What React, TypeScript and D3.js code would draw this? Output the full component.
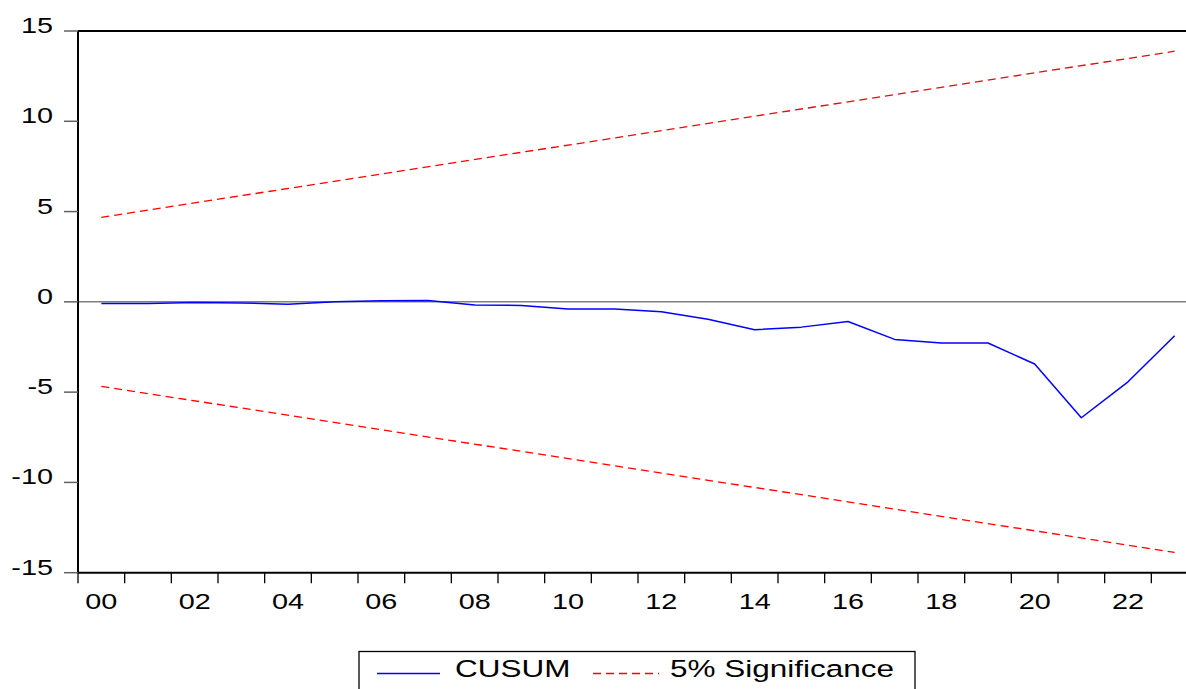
import React from "react";
import * as d3 from "d3";

const years = [2000, 2001, 2002, 2003, 2004, 2005, 2006, 2007, 2008, 2009, 2010, 2011, 2012, 2013, 2014, 2015, 2016, 2017, 2018, 2019, 2020, 2021, 2022, 2023];
const cusum = [-0.09, -0.09, -0.04, -0.06, -0.13, 0.0, 0.06, 0.07, -0.18, -0.2, -0.39, -0.4, -0.55, -0.96, -1.54, -1.4, -1.09, -2.08, -2.28, -2.28, -3.44, -6.42, -4.43, -1.88];
const sigYears = [2000, 2023];
const upperBound = [4.68, 13.88];
const lowerBound = [-4.68, -13.88];
const yTicks = [-15, -10, -5, 0, 5, 10, 15];
const xLabelYears = [2000, 2002, 2004, 2006, 2008, 2010, 2012, 2014, 2016, 2018, 2020, 2022];

const W = 1186;
const H = 689;
const FONT = "'Liberation Sans', Arial, sans-serif";
const SX = 1.34;

function T({ x, y, anchor, size, children }: { x: number; y: number; anchor: "start" | "middle" | "end"; size: number; children: React.ReactNode }) {
  return (
    <text
      transform={`translate(${x},${y}) scale(${SX},1)`}
      textAnchor={anchor}
      fontFamily={FONT}
      fontSize={size}
      fill="#000"
    >
      {children}
    </text>
  );
}

export default function App() {
  const x = d3.scaleLinear().domain([2000, 2024]).range([78, 1198]);
  const y = d3.scaleLinear().domain([-15, 15]).range([572.7, 31]);
  const cx = (yr: number) => x(yr + 0.5);

  const line = d3
    .line<[number, number]>()
    .x((d) => cx(d[0]))
    .y((d) => y(d[1]));

  const cusumPath = line(years.map((yr, i) => [yr, cusum[i]] as [number, number])) || "";
  const upperPath = line(sigYears.map((yr, i) => [yr, upperBound[i]] as [number, number])) || "";
  const lowerPath = line(sigYears.map((yr, i) => [yr, lowerBound[i]] as [number, number])) || "";

  const tickYears = d3.range(2000, 2025);
  const left = x(2000);
  const right = x(2024);
  const top = y(15);
  const bottom = y(-15);

  return (
    <svg
      width={W}
      height={H}
      style={{ position: "absolute", left: 0, top: 0, background: "#fff" }}
    >
      <rect x={0} y={0} width={W} height={H} fill="#fff" />
      <line x1={left} x2={right} y1={y(0)} y2={y(0)} stroke="#808080" strokeWidth={1.5} />
      <path d={upperPath} fill="none" stroke="#ff0000" strokeWidth={1.3} strokeDasharray="8,5" />
      <path d={lowerPath} fill="none" stroke="#ff0000" strokeWidth={1.3} strokeDasharray="8,5" />
      <path d={cusumPath} fill="none" stroke="#0000ff" strokeWidth={1.5} strokeLinejoin="round" />
      <line x1={left} x2={right} y1={top} y2={top} stroke="#000" strokeWidth={2} />
      <line x1={left} x2={left} y1={top} y2={bottom} stroke="#000" strokeWidth={2} />
      <line x1={left} x2={right} y1={bottom} y2={bottom} stroke="#000" strokeWidth={2} />
      {yTicks.map((t) => (
        <g key={t}>
          <line x1={64} x2={left} y1={y(t)} y2={y(t)} stroke="#606060" strokeWidth={1.5} />
          <T x={53} y={y(t) + 2} anchor="end" size={21.5}>
            {t}
          </T>
        </g>
      ))}
      {tickYears.map((t) => (
        <line key={t} x1={x(t)} x2={x(t)} y1={bottom} y2={bottom + 10.5} stroke="#000" strokeWidth={1.3} />
      ))}
      {xLabelYears.map((t) => (
        <T key={t} x={cx(t)} y={608.5} anchor="middle" size={21.5}>
          {String(t % 100).padStart(2, "0")}
        </T>
      ))}
      <rect x={359} y={651.5} width={556} height={60} fill="#fff" stroke="#000" strokeWidth={1.3} />
      <line x1={377} x2={440} y1={673.5} y2={673.5} stroke="#0000ff" strokeWidth={1.5} />
      <T x={455} y={677} anchor="start" size={23.5}>
        CUSUM
      </T>
      <line x1={593} x2={659} y1={673.5} y2={673.5} stroke="#ff0000" strokeWidth={1.3} strokeDasharray="8,5" />
      <T x={670} y={677} anchor="start" size={23.5}>
        5% Significance
      </T>
    </svg>
  );
}
